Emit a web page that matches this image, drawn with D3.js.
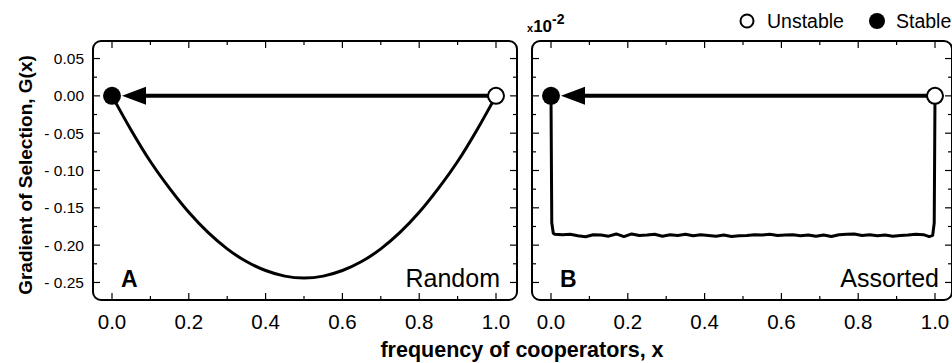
<!DOCTYPE html>
<html>
<head>
<meta charset="utf-8">
<script src="https://cdn.jsdelivr.net/npm/d3@7"></script>
<style>
  body { margin: 0; background: #fff; }
  svg { display: block; font-family: "Liberation Sans", Arial, Helvetica, sans-serif; }
</style>
</head>
<body>
<div id="chart"></div>
<script>
const W = 952, H = 363;

// tick values
let xTicks = [0, 0.2, 0.4, 0.6, 0.8, 1.0];
let xMinor = [0.1, 0.3, 0.5, 0.7, 0.9];
let yTicks = [0.05, 0, -0.05, -0.10, -0.15, -0.20, -0.25];
let yMinor = [0.025, -0.025, -0.075, -0.125, -0.175, -0.225];
let yTickLabels = ["0.05", "0.00", "- 0.05", "- 0.10", "- 0.15", "- 0.20", "- 0.25"];

// panel A: random mixing, G(x)
let randomX = [0, 0.05, 0.1, 0.15, 0.2, 0.25, 0.3, 0.35, 0.4, 0.45, 0.5,
               0.55, 0.6, 0.65, 0.7, 0.75, 0.8, 0.85, 0.9, 0.95, 1.0];
let randomG = [0, -0.046, -0.088, -0.124, -0.156, -0.183, -0.205, -0.222, -0.234, -0.2415, -0.244,
               -0.2415, -0.234, -0.222, -0.205, -0.183, -0.156, -0.124, -0.088, -0.046, 0];

// panel B: assorted, G(x) in units of 1e-2
let assortX = [0, 0.002, 0.006, 0.01, 0.03, 0.05, 0.07, 0.09, 0.11, 0.13, 0.15, 0.17, 0.19,
               0.21, 0.23, 0.25, 0.27, 0.29, 0.31, 0.33, 0.35, 0.37, 0.39, 0.41, 0.43, 0.45,
               0.47, 0.49, 0.51, 0.53, 0.55, 0.57, 0.59, 0.61, 0.63, 0.65, 0.67, 0.69, 0.71,
               0.73, 0.75, 0.77, 0.79, 0.81, 0.83, 0.85, 0.87, 0.89, 0.91, 0.93, 0.95, 0.97,
               0.985, 0.994, 0.998, 1.0];
let assortG = [0, -0.17, -0.184, -0.1855, -0.186, -0.1855, -0.1875, -0.1888, -0.186, -0.1865, -0.188, -0.185, -0.1885,
               -0.185, -0.187, -0.1865, -0.1855, -0.188, -0.186, -0.187, -0.1855, -0.1875, -0.186, -0.187, -0.188, -0.1865,
               -0.1885, -0.1875, -0.187, -0.186, -0.1865, -0.1855, -0.187, -0.1865, -0.186, -0.1875, -0.1865, -0.188, -0.1865,
               -0.1885, -0.186, -0.1855, -0.185, -0.187, -0.186, -0.1875, -0.1865, -0.188, -0.187, -0.1865, -0.1855, -0.186,
               -0.1885, -0.187, -0.17, 0];

let panels = [
  {letter: "A", name: "Random", xs: randomX, ys: randomG, left: 93, right: 517},
  {letter: "B", name: "Assorted", xs: assortX, ys: assortG, left: 532, right: 952}
];

const frameTop = 41, frameBottom = 300;

const svg = d3.select("#chart").append("svg")
    .attr("width", W)
    .attr("height", H);

let y = d3.scaleLinear().domain([-0.2735, 0.0735]).range([frameBottom, frameTop]);

panels.forEach(function (p) {
    // 0 and 1 sit 19px inside the frame
    let x = d3.scaleLinear().domain([0, 1]).range([p.left + 19, p.left + 19 + 384]);
    let g = svg.append("g");

    // frame
    g.append("rect")
        .attr("x", p.left).attr("y", frameTop)
        .attr("width", p.right - p.left).attr("height", frameBottom - frameTop)
        .attr("rx", 8).attr("ry", 8)
        .attr("fill", "none").attr("stroke", "#000").attr("stroke-width", 2);

    // ticks, pointing inwards on all 4 sides
    let ticks = g.append("g").attr("stroke", "#000").attr("stroke-width", 1.2);
    function xt(vals, len) {
        vals.forEach(v => {
            ticks.append("line").attr("x1", x(v)).attr("x2", x(v)).attr("y1", frameTop).attr("y2", frameTop + len);
            ticks.append("line").attr("x1", x(v)).attr("x2", x(v)).attr("y1", frameBottom).attr("y2", frameBottom - len);
        });
    }
    function yt(vals, len) {
        vals.forEach(v => {
            ticks.append("line").attr("x1", p.left).attr("x2", p.left + len).attr("y1", y(v)).attr("y2", y(v));
            ticks.append("line").attr("x1", p.right).attr("x2", p.right - len).attr("y1", y(v)).attr("y2", y(v));
        });
    }
    xt(xTicks, 7); xt(xMinor, 4);
    yt(yTicks, 7); yt(yMinor, 4);

    // x tick labels
    g.selectAll(".xl")
        .data(xTicks)
        .join("text")
        .attr("x", d => x(d))
        .attr("y", 329)
        .attr("text-anchor", "middle")
        .attr("font-size", 20.5)
        .text(d => d.toFixed(1));

    // curve
    let line = d3.line()
        .x(d => x(d[0]))
        .y(d => y(d[1]))
        .curve(p.letter === "A" ? d3.curveCatmullRom : d3.curveLinear);
    g.append("path")
        .attr("d", line(p.xs.map((v, i) => [v, p.ys[i]])))
        .attr("fill", "none")
        .attr("stroke", "#000")
        .attr("stroke-width", 3)
        .attr("stroke-linejoin", "round");

    // arrow from unstable (x=1) to stable (x=0)
    let tip = x(0) + 10, base = tip + 24;
    g.append("line")
        .attr("x1", base - 2).attr("x2", x(1) - 6)
        .attr("y1", y(0)).attr("y2", y(0))
        .attr("stroke", "#000").attr("stroke-width", 4);
    g.append("path")
        .attr("d", `M${tip},${y(0)}L${base},${y(0) - 9}L${base},${y(0) + 9}Z`)
        .attr("fill", "#000");

    // equilibria
    g.append("circle").attr("cx", x(0)).attr("cy", y(0)).attr("r", 9).attr("fill", "#000");
    g.append("circle").attr("cx", x(1)).attr("cy", y(0)).attr("r", 8)
        .attr("fill", "#fff").attr("stroke", "#000").attr("stroke-width", 2);

    // labels
    g.append("text").attr("x", p.left + 28).attr("y", 287)
        .attr("font-size", 23).attr("font-weight", "bold").text(p.letter);
    g.append("text").attr("x", x(1) + 4).attr("y", 287)
        .attr("text-anchor", "end").attr("font-size", 25).text(p.name);
});

// y tick labels (left panel only)
svg.selectAll(".yl")
    .data(yTicks)
    .join("text")
    .attr("x", 84)
    .attr("y", d => y(d) + 5.5)
    .attr("text-anchor", "end")
    .attr("font-size", 15.5)
    .text((d, i) => yTickLabels[i]);

// axis titles
svg.append("text")
    .attr("transform", "translate(32,175) rotate(-90)")
    .attr("text-anchor", "middle")
    .attr("font-size", 19)
    .attr("font-weight", "bold")
    .text("Gradient of Selection, G(x)");

svg.append("text")
    .attr("x", 522).attr("y", 357)
    .attr("text-anchor", "middle")
    .attr("font-size", 21.5)
    .attr("font-weight", "bold")
    .text("frequency of cooperators, x");

// scale factor for panel B
let sf = svg.append("text").attr("x", 527).attr("y", 32).attr("font-weight", "bold");
sf.append("tspan").attr("font-size", 11).text("x");
sf.append("tspan").attr("font-size", 17).text("10");
sf.append("tspan").attr("font-size", 14).attr("dy", -8).text("-2");

// legend
svg.append("circle").attr("cx", 747).attr("cy", 21).attr("r", 6.5)
    .attr("fill", "#fff").attr("stroke", "#000").attr("stroke-width", 2);
svg.append("text").attr("x", 767).attr("y", 28).attr("font-size", 19.5).text("Unstable");
svg.append("circle").attr("cx", 877).attr("cy", 21).attr("r", 8).attr("fill", "#000");
svg.append("text").attr("x", 896).attr("y", 28).attr("font-size", 19.5).text("Stable");
</script>
</body>
</html>
